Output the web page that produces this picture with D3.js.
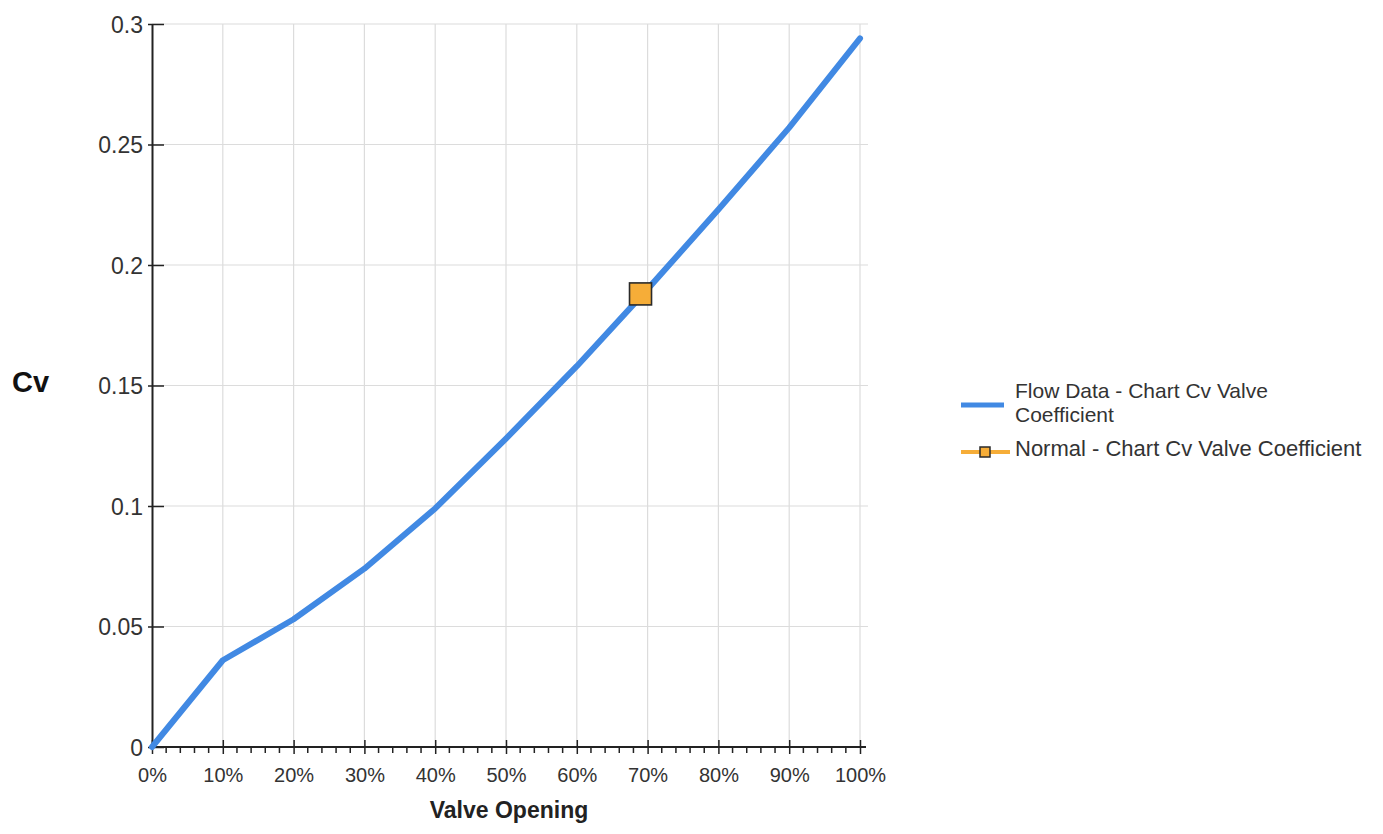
<!DOCTYPE html>
<html>
<head>
<meta charset="utf-8">
<script src="https://cdn.jsdelivr.net/npm/d3@7"></script>
<style>
  body { margin: 0; background: #fff; }
  text { font-family: Arial, "Liberation Sans", sans-serif; }
</style>
</head>
<body>
<div class="chart"></div>
<script>
// chart values
var openings = [0, 10, 20, 30, 40, 50, 60, 70, 80, 90, 100];
var cvValues = [0, 0.036, 0.053, 0.074, 0.099, 0.128, 0.158, 0.190, 0.223, 0.257, 0.294];
var normalOpening = [69];
var normalCv = [0.188];
var yTicks = [0, 0.05, 0.1, 0.15, 0.2, 0.25, 0.3];
var yTickLabels = ["0", "0.05", "0.1", "0.15", "0.2", "0.25", "0.3"];
var xTicks = [0, 10, 20, 30, 40, 50, 60, 70, 80, 90, 100];
var xTickLabels = ["0%", "10%", "20%", "30%", "40%", "50%", "60%", "70%", "80%", "90%", "100%"];
var seriesNames = ["Flow Data - Chart Cv Valve", "Coefficient", "Normal - Chart Cv Valve Coefficient"];

var svgWidth = 1383;
var svgHeight = 834;
var margin = { top: 24, right: 523, bottom: 87, left: 152 };
var width = svgWidth - margin.left - margin.right;   // 708
var height = svgHeight - margin.top - margin.bottom; // 723

var blue = "#4189e3";
var orange = "#f6ad38";

var svg = d3.select(".chart")
  .append("svg")
  .attr("width", svgWidth)
  .attr("height", svgHeight);

var chart = svg.append("g")
  .attr("transform", "translate(" + margin.left + "," + margin.top + ")");

var x = d3.scaleLinear().domain([0, 100]).range([0, width]);
var y = d3.scaleLinear().domain([0, 0.3]).range([height, 0]);

// gridlines
chart.append("g").selectAll("line")
  .data(yTicks.slice(1))
  .enter().append("line")
  .attr("x1", 0).attr("x2", width + 8)
  .attr("y1", function(d) { return y(d); })
  .attr("y2", function(d) { return y(d); })
  .attr("stroke", "#dcdcdc").attr("stroke-width", 1.2);

chart.append("g").selectAll("line")
  .data(xTicks.slice(1))
  .enter().append("line")
  .attr("x1", function(d) { return x(d); })
  .attr("x2", function(d) { return x(d); })
  .attr("y1", 0).attr("y2", height)
  .attr("stroke", "#dcdcdc").attr("stroke-width", 1.2);

// y axis
var leftAxis = d3.axisLeft(y)
  .tickValues(yTicks)
  .tickFormat(function(d, i) { return yTickLabels[i]; })
  .tickSizeInner(-12)
  .tickSizeOuter(0)
  .tickPadding(9);

var yAxisG = chart.append("g").call(leftAxis);
yAxisG.select(".domain").attr("stroke", "#222").attr("stroke-width", 2);
yAxisG.selectAll(".tick line").attr("stroke", "#222").attr("stroke-width", 1.5)
  .attr("x1", -4);
yAxisG.selectAll(".tick text")
  .attr("fill", "#333")
  .style("font-size", "23px")
  .attr("dy", "0.35em");

// x axis with minor ticks
var minorTicks = d3.range(0, 101, 2).filter(function(d) { return d % 10 !== 0; });
chart.append("g")
  .attr("transform", "translate(0," + height + ")")
  .selectAll("line")
  .data(minorTicks)
  .enter().append("line")
  .attr("x1", function(d) { return x(d); })
  .attr("x2", function(d) { return x(d); })
  .attr("y1", 0).attr("y2", 6)
  .attr("stroke", "#222").attr("stroke-width", 1.5);

var bottomAxis = d3.axisBottom(x)
  .tickValues(xTicks)
  .tickFormat(function(d, i) { return xTickLabels[i]; })
  .tickSizeInner(7)
  .tickSizeOuter(0)
  .tickPadding(14);

var xAxisG = chart.append("g")
  .attr("transform", "translate(0," + height + ")")
  .call(bottomAxis);
xAxisG.select(".domain").attr("d", "M0,0H" + (width + 6)).attr("stroke", "#222").attr("stroke-width", 2);
xAxisG.selectAll(".tick line").attr("stroke", "#222").attr("stroke-width", 1.5).attr("y1", -7);
xAxisG.selectAll(".tick text")
  .attr("fill", "#333")
  .style("font-size", "20px");

// flow data line
var line = d3.line()
  .x(function(d, i) { return x(openings[i]); })
  .y(function(d) { return y(d); });

chart.append("path")
  .datum(cvValues)
  .attr("d", line)
  .attr("fill", "none")
  .attr("stroke", blue)
  .attr("stroke-width", 6)
  .attr("stroke-linecap", "round")
  .attr("stroke-linejoin", "round");

// normal point
chart.selectAll(".normal")
  .data(normalCv)
  .enter().append("rect")
  .attr("class", "normal")
  .attr("x", function(d, i) { return x(normalOpening[i]) - 11; })
  .attr("y", function(d) { return y(d) - 11; })
  .attr("width", 22).attr("height", 22)
  .attr("fill", orange)
  .attr("stroke", "#2a2a2a")
  .attr("stroke-width", 1.6);

// axis titles
svg.append("text")
  .attr("x", 12).attr("y", 392)
  .style("font-size", "29px").style("font-weight", "bold")
  .attr("fill", "#111")
  .text("Cv");

svg.append("text")
  .attr("x", margin.left + (width + 6) / 2).attr("y", 818)
  .attr("text-anchor", "middle")
  .style("font-size", "23px").style("font-weight", "bold")
  .attr("fill", "#222")
  .text("Valve Opening");

// legend
var legend = svg.append("g");
legend.append("line")
  .attr("x1", 961).attr("x2", 1004).attr("y1", 405).attr("y2", 405)
  .attr("stroke", blue).attr("stroke-width", 5);
legend.append("text")
  .attr("x", 1015).attr("y", 398)
  .style("font-size", "21px").attr("fill", "#333")
  .text(seriesNames[0]);
legend.append("text")
  .attr("x", 1015).attr("y", 422)
  .style("font-size", "21px").attr("fill", "#333")
  .text(seriesNames[1]);

legend.append("line")
  .attr("x1", 961).attr("x2", 1010).attr("y1", 452).attr("y2", 452)
  .attr("stroke", orange).attr("stroke-width", 4);
legend.append("rect")
  .attr("x", 980).attr("y", 447).attr("width", 10).attr("height", 10)
  .attr("fill", orange).attr("stroke", "#2a2a2a").attr("stroke-width", 1.5);
legend.append("text")
  .attr("x", 1015).attr("y", 456)
  .style("font-size", "22px").attr("fill", "#333")
  .text(seriesNames[2]);
</script>
</body>
</html>
